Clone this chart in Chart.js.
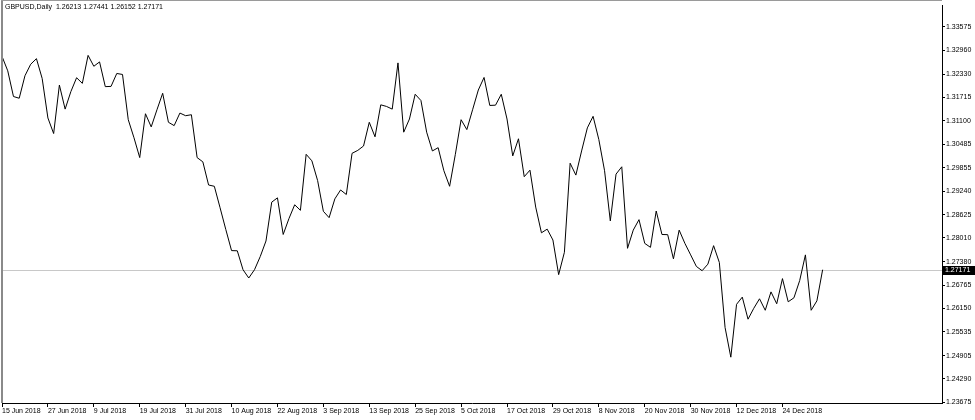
<!DOCTYPE html>
<html>
<head>
<meta charset="utf-8">
<script src="https://cdn.jsdelivr.net/npm/chart.js@4.4.1/dist/chart.umd.min.js"></script>
<style>
  html, body { margin: 0; padding: 0; background: #fff; }
  #wrap { width: 975px; height: 420px; position: relative; }
</style>
</head>
<body>
<div id="wrap"><canvas id="c" width="975" height="420"></canvas></div>
<script>
const headerText = 'GBPUSD,Daily  1.26213 1.27441 1.26152 1.27171';
const lastPrice = 1.27171;

const dateLabels = ['15 Jun 2018','27 Jun 2018','9 Jul 2018','19 Jul 2018','31 Jul 2018','10 Aug 2018','22 Aug 2018','3 Sep 2018','13 Sep 2018','25 Sep 2018','5 Oct 2018','17 Oct 2018','29 Oct 2018','8 Nov 2018','20 Nov 2018','30 Nov 2018','12 Dec 2018','24 Dec 2018'];
const dateBarIndex = [0,8,16,24,32,40,48,56,64,72,80,88,96,104,112,120,128,136];

const priceTicks = [1.33575,1.32960,1.32330,1.31715,1.31100,1.30485,1.29855,1.29240,1.28625,1.28010,1.27380,1.26765,1.26150,1.25535,1.24905,1.24290,1.23675];

const closes = [
  1.32797,1.32416,1.31738,1.31693,1.32286,1.32589,1.32737,1.32215,1.31172,1.30762,
  1.32041,1.31406,1.31868,1.32234,1.32085,1.32823,1.32536,1.32651,1.31999,1.32005,
  1.32346,1.32320,1.31127,1.30650,1.30128,1.31284,1.30937,1.31388,1.31824,1.31059,
  1.30971,1.31302,1.31232,1.31258,1.30128,1.30015,1.29405,1.29371,1.28805,1.28231,
  1.27675,1.27670,1.27171,1.26952,1.27171,1.27518,1.27928,1.28953,1.29066,1.28100,
  1.28518,1.28883,1.28737,1.30214,1.30042,1.29520,1.28711,1.28544,1.29039,1.29274,
  1.29154,1.30240,1.30318,1.30433,1.31059,1.30676,1.31519,1.31477,1.31406,1.32625,
  1.30798,1.31145,1.31798,1.31633,1.30798,1.30303,1.30389,1.29781,1.29371,1.30214,
  1.31127,1.30866,1.31388,1.31910,1.32241,1.31503,1.31510,1.31798,1.31145,1.30172,
  1.30624,1.29624,1.29796,1.28823,1.28144,1.28241,1.27954,1.27041,1.27630,1.29979,
  1.29666,1.30303,1.30911,1.31216,1.30605,1.29781,1.28458,1.29692,1.29885,1.27735,
  1.28215,1.28491,1.27865,1.27761,1.28719,1.28100,1.28095,1.27458,1.28215,1.27865,
  1.27562,1.27257,1.27145,1.27317,1.27805,1.27362,1.25647,1.24864,1.26258,1.26448,
  1.25866,1.26153,1.26404,1.26101,1.26586,1.26273,1.26936,1.26325,1.26430,1.26884,
  1.27562,1.26101,1.26350,1.27171
];

const points = closes.map((v, i) => ({ x: i, y: v }));
const FONT = { family: 'Liberation Sans, Arial, sans-serif', size: 7 };

const mtPlugin = {
  id: 'mt',
  beforeDatasetsDraw(chart) {
    const { ctx, chartArea } = chart;
    const y = Math.round(chart.scales.y.getPixelForValue(lastPrice)) + 0.5;
    ctx.save();
    ctx.strokeStyle = '#c8c8c8';
    ctx.lineWidth = 1;
    ctx.beginPath();
    ctx.moveTo(chartArea.left, y);
    ctx.lineTo(chartArea.right, y);
    ctx.stroke();
    ctx.restore();
  },
  afterDraw(chart) {
    const { ctx, chartArea } = chart;
    ctx.save();
    // frame left/top
    ctx.fillStyle = '#8a8a8a';
    ctx.fillRect(1, 0, 2, chartArea.bottom);
    ctx.fillStyle = '#9a9a9a';
    ctx.fillRect(1, 0, chartArea.right - 1, 1);
    // header
    ctx.fillStyle = '#000';
    ctx.font = '7px ' + FONT.family;
    ctx.textBaseline = 'middle';
    ctx.textAlign = 'left';
    ctx.fillText(headerText, 5, 7.5);
    // price box
    const y = Math.round(chart.scales.y.getPixelForValue(lastPrice));
    ctx.fillStyle = '#000';
    ctx.fillRect(chartArea.right + 1, y - 4, 975 - chartArea.right - 1, 9);
    ctx.fillStyle = '#fff';
    ctx.fillText(lastPrice.toFixed(5), chartArea.right + 3, y + 0.5);
    ctx.restore();
  }
};

new Chart(document.getElementById('c'), {
  type: 'line',
  data: {
    datasets: [{
      data: points,
      borderColor: '#000',
      borderWidth: 1,
      pointRadius: 0,
      tension: 0,
      fill: false
    }]
  },
  options: {
    responsive: false,
    animation: false,
    events: [],
    parsing: true,
    layout: { padding: { left: 2, top: 1, right: 0, bottom: 0 } },
    plugins: { legend: { display: false }, tooltip: { enabled: false } },
    scales: {
      x: {
        type: 'linear',
        min: 0,
        max: 163.8,
        position: 'bottom',
        border: { display: true, color: '#000', width: 1 },
        grid: { drawOnChartArea: false, drawTicks: true, tickLength: 4, color: '#000' },
        ticks: {
          align: 'start',
          autoSkip: false,
          maxRotation: 0,
          padding: 0,
          color: '#000',
          font: FONT,
          callback: (v) => { const k = dateBarIndex.indexOf(v); return k >= 0 ? dateLabels[k] : ''; }
        },
        afterBuildTicks: (s) => { s.ticks = dateBarIndex.map(v => ({ value: v })); },
        afterFit: (s) => { s.height = 17; }
      },
      y: {
        type: 'linear',
        position: 'right',
        min: 1.236558,
        max: 1.341465,
        border: { display: true, color: '#000', width: 1 },
        grid: { drawOnChartArea: false, drawTicks: true, tickLength: 3, color: '#000' },
        ticks: {
          autoSkip: false,
          padding: 1,
          color: '#000',
          font: FONT,
          callback: (v) => Number(v).toFixed(5)
        },
        afterBuildTicks: (s) => { s.ticks = priceTicks.map(v => ({ value: v })); },
        afterFit: (s) => { s.width = 33; }
      }
    }
  },
  plugins: [mtPlugin]
});
</script>
</body>
</html>
